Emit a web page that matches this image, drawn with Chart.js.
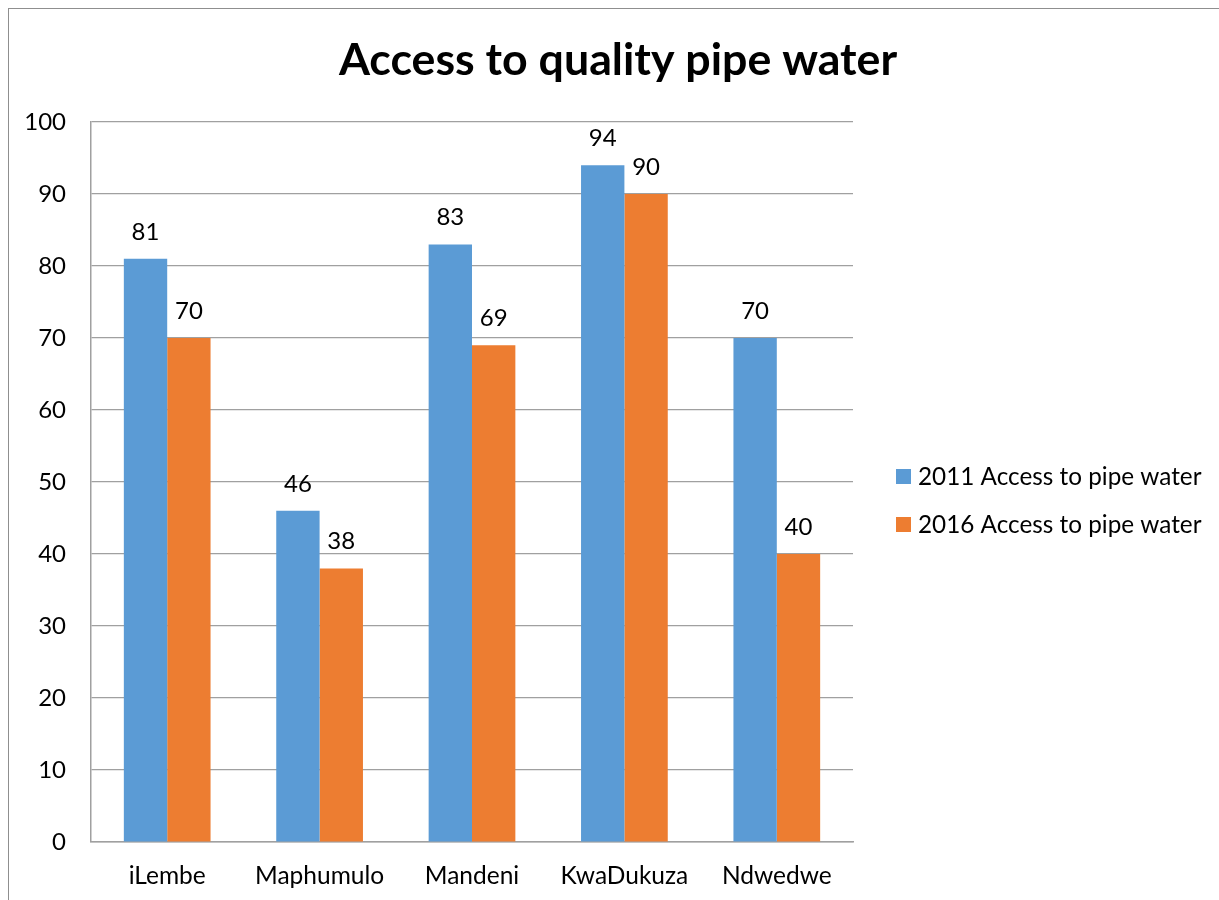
<!DOCTYPE html>
<html>
<head>
<meta charset="utf-8">
<script src="https://cdn.jsdelivr.net/npm/chart.js@4.4.1/dist/chart.umd.min.js"></script>
<style>
  html, body { margin: 0; padding: 0; background: #fff; }
  #wrap { position: relative; width: 1219px; height: 900px; overflow: hidden; }
  #frame { position: absolute; left: 8px; top: 8px; right: -4px; bottom: -4px;
           border-left: 1.5px solid #8f8f8f; border-top: 1.5px solid #8f8f8f; pointer-events: none; }
  canvas { position: absolute; left: 0; top: 0; }
</style>
</head>
<body>
<div id="wrap">
  <canvas id="c" width="1219" height="900"></canvas>
  <div id="frame"></div>
</div>
<script>
// Municipalities and access percentages
const categories = ['iLembe', 'Maphumulo', 'Mandeni', 'KwaDukuza', 'Ndwedwe'];
const access2011 = [81, 46, 83, 94, 70];
const access2016 = [70, 38, 69, 90, 40];
const seriesNames = ['2011 Access to pipe water', '2016 Access to pipe water'];
const seriesColors = ['#5B9BD5', '#ED7D31'];
const yTicks = [0, 10, 20, 30, 40, 50, 60, 70, 80, 90, 100];
const chartTitle = 'Access to quality pipe water';

const FONT = 'Lato, "Open Sans", sans-serif';

// Title centred across the whole frame (including the legend column)
const wideTitle = {
  id: 'wideTitle',
  afterDraw(chart) {
    const ctx = chart.ctx;
    ctx.save();
    ctx.font = 'bold 44.7px ' + FONT;
    ctx.fillStyle = '#000';
    ctx.textAlign = 'center';
    ctx.textBaseline = 'alphabetic';
    ctx.fillText(chartTitle, 618, 75);
    ctx.restore();
  }
};

// Value labels above each bar
const valueLabels = {
  id: 'valueLabels',
  afterDatasetsDraw(chart) {
    const ctx = chart.ctx;
    ctx.save();
    ctx.font = '24px ' + FONT;
    ctx.fillStyle = '#000';
    ctx.textAlign = 'center';
    ctx.textBaseline = 'alphabetic';
    chart.data.datasets.forEach((ds, i) => {
      chart.getDatasetMeta(i).data.forEach((bar, j) => {
        ctx.fillText(String(ds.data[j]), bar.x, bar.y - 19);
      });
    });
    ctx.restore();
  }
};

// Legend block on the right
const sideLegend = {
  id: 'sideLegend',
  afterDraw(chart) {
    const ctx = chart.ctx;
    ctx.save();
    ctx.font = '24.3px ' + FONT;
    ctx.textAlign = 'left';
    ctx.textBaseline = 'middle';
    const x = 896, y0 = 476.5, gap = 48, box = 15;
    chart.data.datasets.forEach((ds, i) => {
      const y = y0 + i * gap;
      ctx.fillStyle = ds.backgroundColor;
      ctx.fillRect(x, y - box / 2, box, box);
      ctx.fillStyle = '#000';
      ctx.fillText(ds.label, x + 22, y + 1);
    });
    ctx.restore();
  }
};

new Chart(document.getElementById('c'), {
  type: 'bar',
  data: {
    labels: categories,
    datasets: [
      { label: seriesNames[0], data: access2011, backgroundColor: seriesColors[0] },
      { label: seriesNames[1], data: access2016, backgroundColor: seriesColors[1] }
    ]
  },
  options: {
    responsive: false,
    animation: false,
    devicePixelRatio: 1,
    layout: { padding: { left: 0, right: 366, top: 122, bottom: 0 } },
    datasets: { bar: { barPercentage: 1.0, categoryPercentage: 0.569 } },
    plugins: {
      legend: { display: false },
      tooltip: { enabled: false },
      title: { display: false }
    },
    scales: {
      x: {
        grid: { display: false, drawTicks: false },
        border: { display: true, color: '#a0a0a0', width: 1.5 },
        ticks: { color: '#000', font: { family: FONT, size: 24.5 }, padding: 19 },
        afterFit(scale) { scale.height = 58; }
      },
      y: {
        min: 0,
        max: 100,
        afterBuildTicks(scale) { scale.ticks = yTicks.map(v => ({ value: v })); },
        grid: { color: '#a0a0a0', lineWidth: 1.2, drawTicks: false },
        border: { display: true, color: '#a0a0a0', width: 1.5 },
        ticks: { color: '#000', font: { family: FONT, size: 24 }, padding: 25 },
        afterFit(scale) { scale.width = 91; }
      }
    }
  },
  plugins: [valueLabels, sideLegend, wideTitle]
});
</script>
</body>
</html>
